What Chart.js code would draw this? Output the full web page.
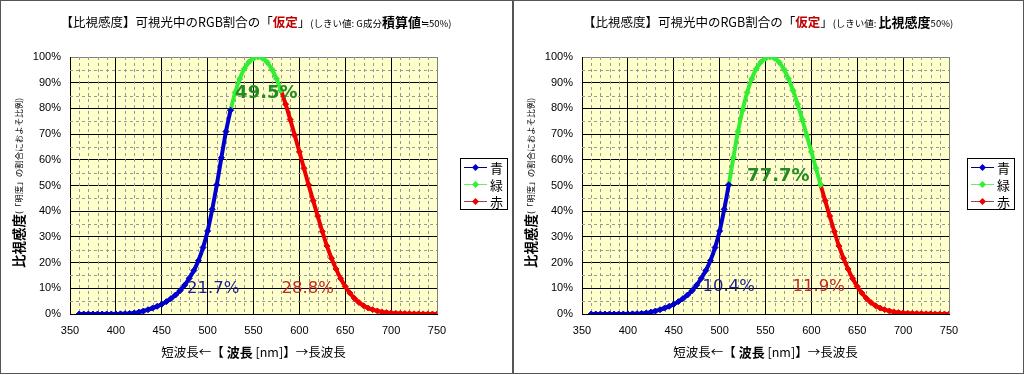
<!DOCTYPE html>
<html><head><meta charset="utf-8">
<script src="https://cdn.jsdelivr.net/npm/chart.js@4"></script>
<style>
html,body{margin:0;padding:0;background:#fff;width:1024px;height:375px;overflow:hidden}
canvas{position:absolute;top:0}
.frame{position:absolute;border:1px solid #555;box-sizing:border-box;pointer-events:none}
</style></head><body>
<canvas id="c1" width="512" height="375" style="left:0"></canvas>
<canvas id="c2" width="512" height="375" style="left:512px"></canvas>
<div class="frame" style="left:0;top:0;width:514px;height:374px"></div>
<div class="frame" style="left:512px;top:0;width:512px;height:374px"></div>
<script>
// ---- data ----
const wavelengths = [360,365,370,375,380,385,390,395,400,405,410,415,420,425,430,435,440,445,450,455,460,465,470,475,480,485,490,495,500,505,510,515,520,525,530,535,540,545,550,555,560,565,570,575,580,585,590,595,600,605,610,615,620,625,630,635,640,645,650,655,660,665,670,675,680,685,690,695,700,705,710,715,720,725,730,735,740,745,750];
const luminosity = [0.0000039,0.000006965,0.00001239,0.00002202,0.000039,0.000064,0.00012,0.000217,0.000396,0.00064,0.00121,0.00218,0.004,0.0073,0.0116,0.01684,0.023,0.0298,0.038,0.048,0.06,0.0739,0.09098,0.1126,0.13902,0.1693,0.20802,0.2586,0.323,0.4073,0.503,0.6082,0.71,0.7932,0.862,0.91485,0.954,0.9803,0.99495,1.0,0.995,0.9786,0.952,0.9154,0.87,0.8163,0.757,0.6949,0.631,0.5668,0.503,0.4412,0.381,0.321,0.265,0.217,0.175,0.1382,0.107,0.0816,0.061,0.04458,0.032,0.0232,0.017,0.01192,0.00821,0.005723,0.004102,0.002929,0.002091,0.001484,0.001047,0.00074,0.00052,0.0003611,0.0002492,0.0001719,0.00012];
const seriesNames = ['青','緑','赤'];
const leftSplit = [525, 580];
const rightSplit = [510, 610];
const leftShares = ['21.7%','49.5%','28.8%'];
const rightShares = ['10.4%','77.7%','11.9%'];
const xTickValues = [350,400,450,500,550,600,650,700,750];
const yTickValues = [0,0.1,0.2,0.3,0.4,0.5,0.6,0.7,0.8,0.9,1.0];

// ---- styles ----
const JP = '"Noto Sans CJK JP"';
const curveColors = ['#0000CC','#33EE33','#EE0000'];
const legendLineColors = ['#000080','#66EE66','#A04040'];
const shareColors = ['#1F1F8F','#228B22','#C02828'];

function segment(lo, hi){
  const pts=[];
  wavelengths.forEach((w,i)=>{ if(w>=lo && w<=hi) pts.push({x:w,y:luminosity[i]}); });
  return pts;
}
function drawRich(ctx, parts, cx, y){
  let total=0;
  parts.forEach(p=>{ctx.font=p.f; p.w=ctx.measureText(p.t).width; total+=p.w;});
  let x=cx-total/2;
  ctx.textAlign='left';
  parts.forEach(p=>{ctx.font=p.f; ctx.fillStyle=p.c||'#000'; ctx.fillText(p.t,x,y); x+=p.w;});
}

function makeChart(id, split, shares, titleParts, sharePos, legendX){
  const decor = {
    id:'decor',
    beforeDraw(chart){
      const {ctx, chartArea:a} = chart;
      ctx.save(); ctx.fillStyle='#fff'; ctx.fillRect(0,0,chart.width,chart.height);
      ctx.fillStyle='#FFFFCC'; ctx.fillRect(a.left,a.top,a.right-a.left,a.bottom-a.top);
      ctx.restore();
    },
    beforeDatasetsDraw(chart){
      const {ctx, chartArea:a, scales:{x,y}} = chart;
      ctx.save(); ctx.strokeStyle='#999'; ctx.lineWidth=1; ctx.setLineDash([3,3]);
      for(let w=360; w<750; w+=10){ if(w%50===0) continue;
        const px=Math.round(x.getPixelForValue(w))+0.5;
        ctx.beginPath(); ctx.moveTo(px,a.top); ctx.lineTo(px,a.bottom); ctx.stroke(); }
      for(let v=0.05; v<1; v+=0.1){
        const py=Math.round(y.getPixelForValue(v))+0.5;
        ctx.beginPath(); ctx.moveTo(a.left,py); ctx.lineTo(a.right,py); ctx.stroke(); }
      ctx.restore();
    },
    afterDraw(chart){
      const {ctx, chartArea:a, scales:{x,y}} = chart;
      ctx.save();
      ctx.textBaseline='alphabetic';
      drawRich(ctx, titleParts, 256, 27);
      ctx.textBaseline='middle';
      drawRich(ctx, [
        {t:'短波長←【 ', f:'12.5px '+JP},
        {t:'波長', f:'bold 13px '+JP},
        {t:' [nm]】→長波長', f:'12.5px '+JP}], (a.left+a.right)/2, 352);
      ctx.save(); ctx.translate(19,183); ctx.rotate(-Math.PI/2);
      drawRich(ctx, [
        {t:'比視感度', f:'bold 13.5px '+JP},
        {t:'(「明度」の割合におよそ比例)', f:'8.5px '+JP}], 0, 0);
      ctx.restore();
      // share labels
      ctx.textAlign='center'; ctx.textBaseline='middle';
      shares.forEach((s,i)=>{
        ctx.font = (i===1?'bold 18px':'16.5px')+' "DejaVu Sans"';
        ctx.fillStyle = shareColors[i];
        ctx.fillText(s, x.getPixelForValue(sharePos[i][0]), y.getPixelForValue(sharePos[i][1]));
      });
      // legend
      const ly=158, lw=47, lh=51;
      ctx.fillStyle='#fff'; ctx.fillRect(legendX+0.5,ly+0.5,lw,lh);
      ctx.strokeStyle='#000'; ctx.lineWidth=1; ctx.strokeRect(legendX+0.5,ly+0.5,lw,lh);
      seriesNames.forEach((n,i)=>{
        const ry=ly+9.5+i*17;
        ctx.strokeStyle=legendLineColors[i]; ctx.beginPath(); ctx.moveTo(legendX+4,ry); ctx.lineTo(legendX+27,ry); ctx.stroke();
        ctx.fillStyle=curveColors[i]; ctx.beginPath();
        const cx=legendX+15.5; ctx.moveTo(cx,ry-3.5); ctx.lineTo(cx+3.5,ry); ctx.lineTo(cx,ry+3.5); ctx.lineTo(cx-3.5,ry); ctx.closePath(); ctx.fill();
        ctx.fillStyle='#000'; ctx.font='13px '+JP; ctx.textAlign='left'; ctx.textBaseline='middle';
        ctx.fillText(n, legendX+30, ry+0.5);
      });
      ctx.restore();
    }
  };
  const ranges = [[350,split[0]],[split[0],split[1]],[split[1],750]];
  return new Chart(document.getElementById(id), {
    type:'line',
    data:{datasets: ranges.map((r,i)=>({
      label: seriesNames[i], data: segment(r[0],r[1]),
      borderColor: curveColors[i], backgroundColor: curveColors[i],
      borderWidth: 4, pointStyle:'rectRot', pointRadius:3, pointBorderWidth:1,
      pointBackgroundColor: curveColors[i], pointBorderColor: curveColors[i],
      cubicInterpolationMode:'monotone', fill:false
    }))},
    options:{
      responsive:false, animation:false, devicePixelRatio:1,
      layout:{padding:{left:0,top:57,right:75,bottom:0}},
      plugins:{legend:{display:false}, tooltip:{enabled:false}, title:{display:false}},
      scales:{
        x:{type:'linear', min:350, max:750,
          afterBuildTicks:s=>{s.ticks=xTickValues.map(v=>({value:v}));},
          ticks:{color:'#000', font:{family:'Liberation Sans', size:11}, padding:10, maxRotation:0, autoSkip:false},
          grid:{color:c=>(c.tick && c.tick.value===750)?'#808080':'#000', lineWidth:1, drawTicks:false},
          border:{color:'#000', width:1},
          afterFit:s=>{s.height=61;}},
        y:{min:0, max:1,
          afterBuildTicks:s=>{s.ticks=yTickValues.map(v=>({value:v}));},
          ticks:{color:'#000', font:{family:'Liberation Sans', size:11}, padding:9,
            callback:v=>Math.round(v*100)+'%'},
          grid:{color:c=>(c.tick && Math.abs(c.tick.value-1)<1e-6)?'#808080':'#000', lineWidth:1, drawTicks:false},
          border:{color:'#000', width:1},
          afterFit:s=>{s.width=70;}}
      }
    },
    plugins:[decor]
  });
}

makeChart('c1', leftSplit, leftShares, [
  {t:'【比視感度】可視光中のRGB割合の「', f:'12.5px '+JP},
  {t:'仮定', f:'bold 12.5px '+JP, c:'#C00000'},
  {t:'」', f:'12.5px '+JP},
  {t:'(しきい値: G成分', f:'9.5px '+JP},
  {t:'積算値', f:'bold 13px '+JP},
  {t:'≒50%)', f:'9.5px '+JP}
], [[506,0.10],[564,0.86],[609,0.10]], 460);

makeChart('c2', rightSplit, rightShares, [
  {t:'【比視感度】可視光中のRGB割合の「', f:'12.5px '+JP},
  {t:'仮定', f:'bold 12.5px '+JP, c:'#C00000'},
  {t:'」', f:'12.5px '+JP},
  {t:'(しきい値: ', f:'9.5px '+JP},
  {t:'比視感度', f:'bold 13px '+JP},
  {t:'50%)', f:'9.5px '+JP}
], [[510,0.105],[564,0.535],[608,0.105]], 455);
</script>
</body></html>
